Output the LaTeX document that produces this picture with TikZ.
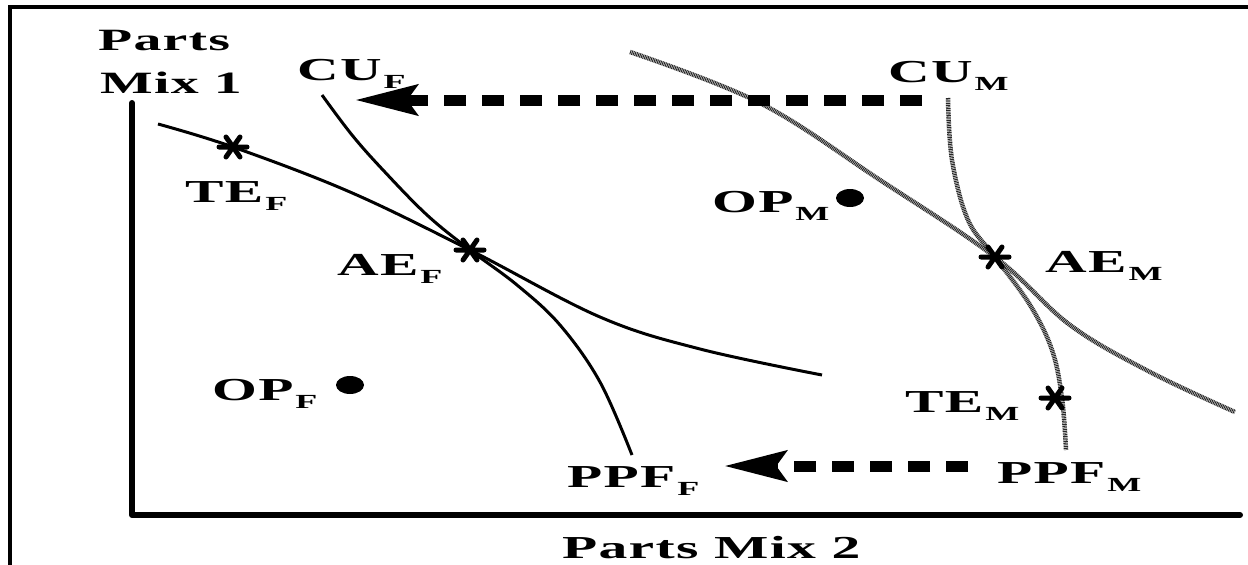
\documentclass[tikz,border=0pt]{standalone}
\usepackage{fontspec}
\newfontfamily\lblfont{Liberation Serif}[FakeStretch=1.8,LetterSpace=4]
\usetikzlibrary{arrows.meta,shapes.geometric}
\newcommand\lab[2]{{\fontsize{32}{32}\selectfont #1}\kern2pt\raisebox{-8pt}{\fontsize{20}{20}\selectfont #2}}
\tikzset{
  frameline/.style={line width=4pt},
  axisline/.style={line width=6pt, line join=round, line cap=round},
  fcurve/.style={line width=3pt},
  mcurve/.style={draw=black!85, line width=4.5pt, dash pattern=on 1pt off 0.7pt},
  bigarrow/.style={line width=11pt, dash pattern=on 22pt off 16pt,
     -{Stealth[length=62pt,width=30pt,inset=10pt]}},
  lbl/.style={font=\lblfont\bfseries, inner sep=0pt, anchor=base west},
  bigdot/.style={ellipse, fill, minimum width=28pt, minimum height=18pt, inner sep=0pt},
  astr/.pic={\draw[line width=5pt,line cap=round] (-14,0)--(14,0) (-7,-10)--(7,10) (-7,10)--(7,-10);}
}
\begin{document}
\begin{tikzpicture}[x=1pt,y=-1pt]
\useasboundingbox (0,0) rectangle (1248,565);
\fill[white] (0,0) rectangle (1248,565);
% frame
\draw[frameline] (10,565) -- (10,7) -- (1248,7);
% axes
\coordinate (ytop) at (132,103);
\coordinate (orig) at (132,515);
\coordinate (xend) at (1240,515);
\draw[axisline] (ytop) -- (orig) -- (xend);
% axis labels
\node[lbl] (ylab1) at (98,50) {\fontsize{31}{31}\selectfont Parts};
\node[lbl] (ylab2) at (100,93) {\fontsize{31}{31}\selectfont Mix 1};
\node[lbl] (xlab) at (562,558) {\fontsize{32}{32}\selectfont Parts Mix 2};
% F curves
\draw[fcurve] plot[smooth, tension=0.6] coordinates {(158,124) (233,147) (350,192) (470,250) (600,317) (700,349) (822,375)};
\draw[fcurve] plot[smooth, tension=0.6] coordinates {(322,95) (352,135) (383,170) (427,215) (470,250) (517,285) (560,325) (600,382) (632,455)};
% M curves
\draw[mcurve] plot[smooth, tension=0.6] coordinates {(630,52) (760,103) (880,180) (995,257) (1070,325) (1150,372) (1235,412)};
\draw[mcurve] plot[smooth, tension=0.6] coordinates {(948,98) (952,160) (968,220) (995,257) (1030,305) (1052,350) (1062,398) (1066,450)};
% markers
\coordinate (teF) at (233,147);
\coordinate (aeF) at (470,250);
\coordinate (aeM) at (995,257);
\coordinate (teM) at (1055,398);
\pic at (teF) {astr};
\pic at (aeF) {astr};
\pic at (aeM) {astr};
\pic at (teM) {astr};
\node[bigdot] (opFdot) at (350,385) {};
\node[bigdot] (opMdot) at (850,198) {};
% labels
\node[lbl] (cuF) at (297,80) {\lab{CU}{F}};
\node[lbl] (teFl) at (185,202) {\lab{TE}{F}};
\node[lbl] (aeFl) at (337,275) {\lab{AE}{F}};
\node[lbl] (opFl) at (212,400) {\lab{OP}{F}};
\node[lbl] (ppfF) at (567,487) {\lab{PPF}{F}};
\node[lbl] (cuM) at (888,82) {\lab{CU}{M}};
\node[lbl] (opMl) at (712,212) {\lab{OP}{M}};
\node[lbl] (aeMl) at (1045,272) {\lab{AE}{M}};
\node[lbl] (teMl) at (905,412) {\lab{TE}{M}};
\node[lbl] (ppfM) at (997,483) {\lab{PPF}{M}};
% shift arrows
\coordinate (a1s) at (922,100);
\coordinate (a1e) at (355,100);
\coordinate (a2s) at (968,466);
\coordinate (a2e) at (724,466);
\draw[bigarrow] (a1s) -- (a1e);
\draw[bigarrow] (a2s) -- (a2e);
\end{tikzpicture}
\end{document}
